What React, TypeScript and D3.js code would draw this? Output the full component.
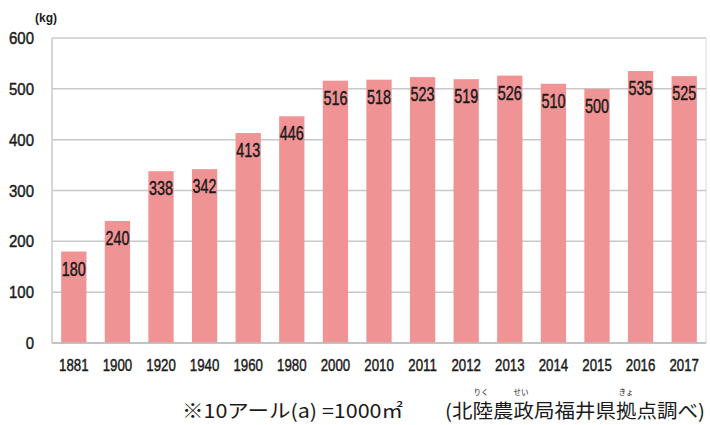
import React from "react";
import * as d3 from "d3";

const years = ["1881","1900","1920","1940","1960","1980","2000","2010","2011","2012","2013","2014","2015","2016","2017"];
const yields = [180,240,338,342,413,446,516,518,523,519,526,510,500,535,525];
const yTicks = [0,100,200,300,400,500,600];
const unitLabel = "(kg)";
const footMain = "※10アール(a) =1000㎡";
const footSource = "(北陸農政局福井県拠点調べ)";
const rubies = [
  { text: "りく", x: 481 },
  { text: "せい", x: 521 },
  { text: "きょ", x: 626 },
];

const W = 710, H = 425;
const left = 52, right = 706, top = 38, bottom = 343;
const sans = "'Liberation Sans', Arial, sans-serif";
const jp = "'Noto Sans CJK JP', 'Noto Sans', sans-serif";

function Narrow({ x, y, sx, size, anchor, children }: any) {
  return (
    <text transform={`translate(${x},${y}) scale(${sx},1)`} textAnchor={anchor} fontFamily={sans}
      fontSize={size} fill="#1a1a1a" stroke="#1a1a1a" strokeWidth={0.45}>{children}</text>
  );
}

export default function App() {
  const x = d3.scaleBand().domain(years).range([left, right]).paddingInner(0.42).paddingOuter(0.21);
  const y = d3.scaleLinear().domain([0, 600]).range([bottom, top]);
  return (
    <svg width={W} height={H} style={{ position: "absolute", left: 0, top: 0, background: "#fff" }}>
      {yTicks.map(t => (
        <line key={"g"+t} x1={left} x2={right} y1={y(t)} y2={y(t)} stroke="#c8c8c8" strokeWidth={1.5} />
      ))}
      <line x1={left} x2={left} y1={top} y2={bottom} stroke="#c8c8c8" strokeWidth={1.5} />
      <line x1={right} x2={right} y1={top} y2={bottom} stroke="#d8d8d8" strokeWidth={1} />
      {years.map((yr, i) => (
        <rect key={yr} x={x(yr)} y={y(yields[i])} width={x.bandwidth()} height={y(0) - y(yields[i])} fill="#f09395" />
      ))}
      <line x1={left} x2={right} y1={y(0)} y2={y(0)} stroke="#bdbdbd" strokeWidth={1.5} />
      {years.map((yr, i) => (
        <Narrow key={"v"+yr} x={(x(yr) as number) + x.bandwidth() / 2} y={y(yields[i]) + 24} sx={0.72} size={20} anchor="middle">{yields[i]}</Narrow>
      ))}
      {years.map(yr => (
        <Narrow key={"x"+yr} x={(x(yr) as number) + x.bandwidth() / 2} y={371} sx={0.78} size={17} anchor="middle">{yr}</Narrow>
      ))}
      {yTicks.map(t => (
        <Narrow key={"y"+t} x={34} y={y(t) + 6} sx={0.88} size={17} anchor="end">{t}</Narrow>
      ))}
      <text x={35} y={22} fontFamily={sans} fontSize={12} fontWeight="bold" fill="#1a1a1a">{unitLabel}</text>
      <text x={182} y={418} fontFamily={jp} fontSize={19} fill="#1a1a1a" textLength={221} lengthAdjust="spacingAndGlyphs">{footMain}</text>
      <text x={445} y={418} fontFamily={jp} fontSize={19} fill="#1a1a1a" textLength={260} lengthAdjust="spacingAndGlyphs">{footSource}</text>
      {rubies.map(r => (
        <text key={r.text} x={r.x} y={395} textAnchor="middle" fontFamily={jp} fontSize={7.5} fill="#1a1a1a">{r.text}</text>
      ))}
    </svg>
  );
}
